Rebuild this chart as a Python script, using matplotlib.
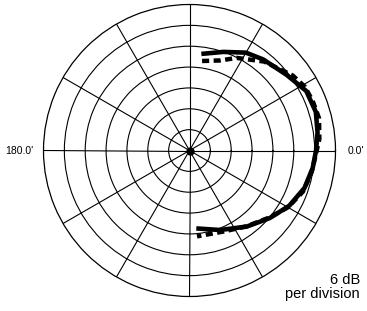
import numpy as np
import matplotlib
matplotlib.use("Agg")
import matplotlib.pyplot as plt

plt.rcParams['font.family'] = ['Liberation Sans', 'DejaVu Sans']

# polar response, angle in degrees, level in dB (0 dB = outer ring)
solid_deg = [83, 71, 60, 51, 38, 27, 17, 8, 0, -8, -18, -29, -40, -53, -69, -85]
solid_db = [-14.0, -12.0, -9.5, -8.3, -6.6, -4.3, -4.0, -4.8, -5.6, -6.2, -7.2, -9.2, -11.8, -14.6, -17.5, -19.5]

dashed_deg = [82, 71, 63, 50, 36, 29, 22, 14, 5, 0, -10, -20, -30, -40, -53, -67, -85]
dashed_db = [-16.0, -14.6, -12.1, -8.6, -5.3, -4.1, -3.8, -3.6, -4.5, -5.4, -6.3, -7.3, -9.3, -12.0, -14.7, -16.7, -17.2]

ring_db = [-36, -30, -24, -18, -12, -6]
spoke_deg = list(range(0, 360, 30))
r_min, r_max = -42, 0

W, H = 367, 311
fig = plt.figure(figsize=(W / 100, H / 100), dpi=100)
cx, cy, rad = 189.5, 150.5, 146
ax = fig.add_axes([(cx - rad) / W, (H - cy - rad) / H, 2 * rad / W, 2 * rad / H],
                  projection='polar')

ax.plot(np.radians(solid_deg), solid_db, color='black', lw=3.3, solid_capstyle='butt')
ax.plot(np.radians(dashed_deg), dashed_db, color='black', lw=3.2, dashes=(1.6, 1.0))
ax.plot(0, r_min, 'o', color='black', ms=5)

ax.set_ylim(r_min, r_max)
ax.set_rgrids(ring_db, labels=[''] * len(ring_db))
ax.set_thetagrids(spoke_deg, labels=[''] * len(spoke_deg))
ax.grid(True, color='black', lw=0.8)
ax.spines['polar'].set_linewidth(0.9)
ax.tick_params(length=0)

fig.text(33 / W, 1 - 151 / H, "180.0'", ha='right', va='center', fontsize=7.5)
fig.text(348 / W, 1 - 151 / H, "0.0'", ha='left', va='center', fontsize=7.5)
fig.text(360 / W, 1 - 284 / H, "6 dB", ha='right', va='baseline', fontsize=10.5)
fig.text(360 / W, 1 - 298 / H, "per division", ha='right', va='baseline', fontsize=10.5)

fig.savefig("out.png", dpi=100)
